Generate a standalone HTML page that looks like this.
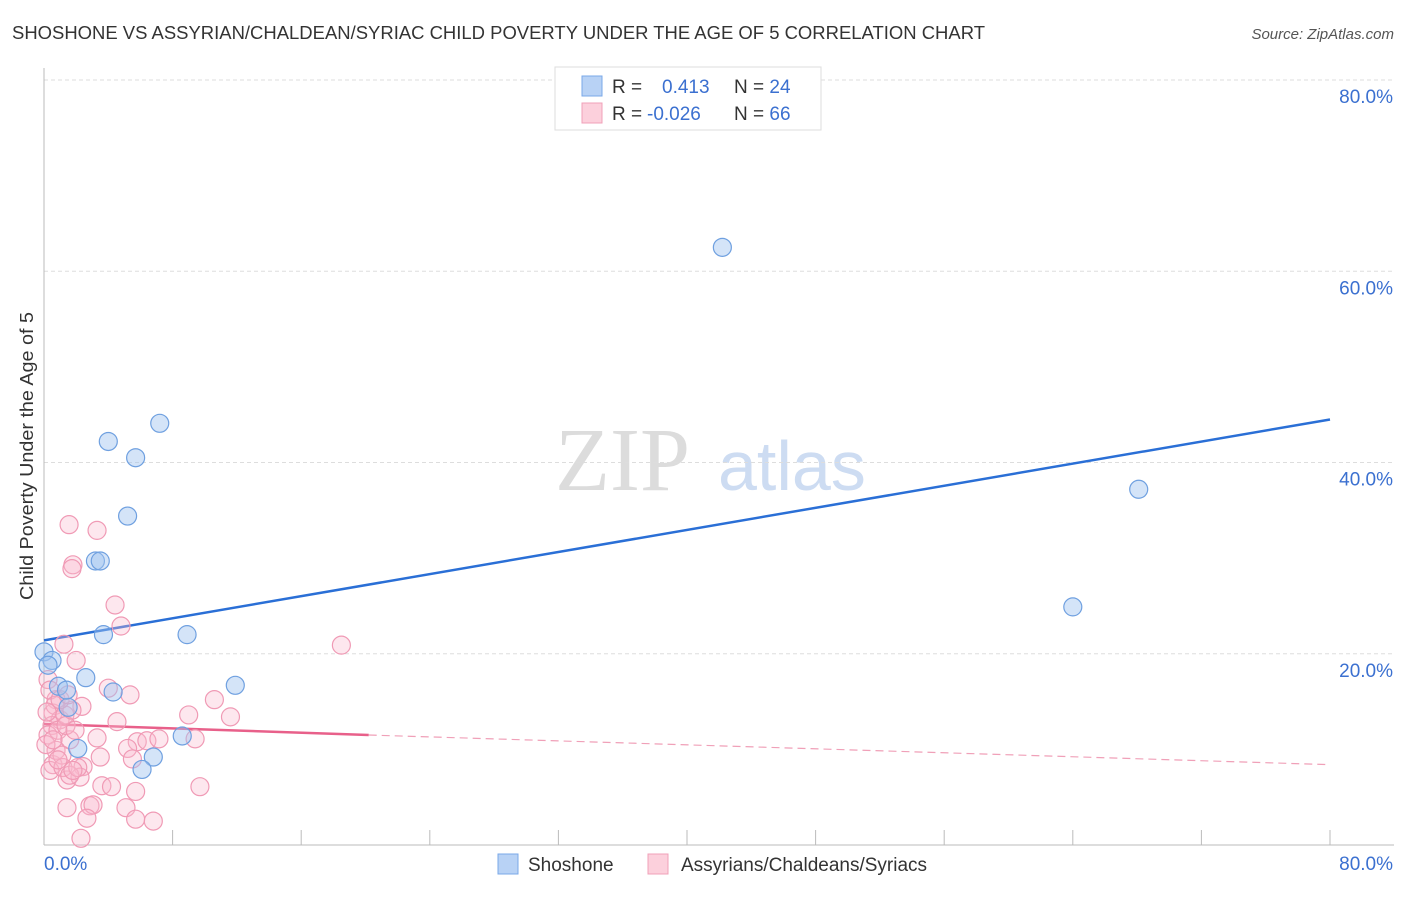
<!DOCTYPE html>
<html><head><meta charset="utf-8"><style>
body{margin:0;background:#fff;font-family:"Liberation Sans",sans-serif}
</style></head><body>
<svg id="chart" width="1406" height="892" xmlns="http://www.w3.org/2000/svg" font-family="Liberation Sans, sans-serif">
<text x="12" y="39" font-size="18" fill="#333" textLength="973" lengthAdjust="spacingAndGlyphs">SHOSHONE VS ASSYRIAN/CHALDEAN/SYRIAC CHILD POVERTY UNDER THE AGE OF 5 CORRELATION CHART</text>
<text x="1394" y="39" font-size="15" fill="#555" font-style="italic" text-anchor="end">Source: ZipAtlas.com</text>
<g>
<text x="555" y="490" font-size="90" fill="#dcdcdc" font-family="Liberation Serif, serif">ZIP</text>
<text x="718" y="490" font-size="70" fill="#cddcf2">atlas</text>
</g>
<g id="grid"></g><g id="axes"></g><g id="trend"></g><g id="pts"></g>
<text transform="translate(33,456) rotate(-90)" font-size="18" fill="#333" text-anchor="middle" textLength="288" lengthAdjust="spacingAndGlyphs">Child Poverty Under the Age of 5</text>
<g>
<rect x="555" y="67" width="266" height="63" fill="#fff" stroke="#ddd"/>
<rect x="582" y="76" width="20" height="20" fill="#b8d2f5" stroke="#7aa8e8"/>
<rect x="582" y="103" width="20" height="20" fill="#fcd0dc" stroke="#f0a0b8"/>
<text x="612" y="93" font-size="19" fill="#333">R = <tspan x="662" fill="#3b70d0">0.413</tspan><tspan x="734" fill="#333">N = </tspan><tspan fill="#3b70d0">24</tspan></text>
<text x="612" y="120" font-size="19" fill="#333">R = <tspan x="647" fill="#3b70d0">-0.026</tspan><tspan x="734" fill="#333">N = </tspan><tspan fill="#3b70d0">66</tspan></text>
</g>
<g>
<rect x="498" y="854" width="20" height="20" fill="#b8d2f5" stroke="#7aa8e8"/>
<text x="528" y="871" font-size="19" fill="#333">Shoshone</text>
<rect x="648" y="854" width="20" height="20" fill="#fcd0dc" stroke="#f0a0b8"/>
<text x="681" y="871" font-size="19" fill="#333">Assyrians/Chaldeans/Syriacs</text>
</g>
</svg>
<script>
const yTicks=[20,40,60,80];
const yTickLabels=["20.0%","40.0%","60.0%","80.0%"];
const xTickLabels=["0.0%","80.0%"];
const shoshoneX=[0,0.5,4.0,7.2,5.7,5.2,3.2,3.5,3.7,8.9,42.2,68.1,64.0,2.6,0.9,4.3,11.9,1.5,2.1,6.8,6.1,8.6,0.25,1.4];
const shoshoneY=[20.2,19.3,42.2,44.1,40.5,34.4,29.7,29.7,22.0,22.0,62.5,37.2,24.9,17.5,16.6,16.0,16.7,14.4,10.1,9.2,7.9,11.4,18.8,16.2];
const assyrX=[1.56,3.3,1.8,1.74,4.42,4.79,1.24,18.5,2.0,4.0,5.35,2.36,0.75,0.56,4.54,9.0,10.6,11.6,3.3,5.8,6.4,7.15,9.4,5.2,3.5,5.5,0.56,1.43,2.43,2.24,3.6,4.2,5.7,9.7,1.43,2.86,3.05,2.67,5.1,5.7,6.8,2.3,0.25,0.37,0.68,1.0,0.5,0.25,0.87,1.3,1.6,0.75,1.12,0.12,1.37,1.74,0.37,1.0,1.5,1.93,0.19,0.56,1.18,0.87,1.6,2.1,1.8];
const assyrY=[33.5,32.9,29.3,28.9,25.1,22.9,21.0,20.9,19.3,16.4,15.7,14.5,15.2,13.8,12.9,13.6,15.2,13.4,11.2,10.8,10.9,11.1,11.1,10.1,9.2,9.0,8.4,6.8,8.2,7.1,6.2,6.1,5.6,6.1,3.9,4.1,4.2,2.8,3.9,2.7,2.5,0.7,17.3,16.2,14.6,13.1,12.5,11.5,12.0,13.6,11.0,9.9,9.4,10.5,12.5,14.1,7.8,15.2,15.7,12.0,13.9,11.0,8.1,8.9,7.3,8.1,7.8];
const blueTrend=[[0,21.4],[80,44.5]];
const pinkTrendSolid=[[0,12.65],[20.2,11.5]];
const pinkTrendDash=[[20.2,11.5],[80,8.4]];
const X=v=>44+v*1286/80, Y=v=>845-v*765/80;
const NS="http://www.w3.org/2000/svg";
function mk(tag,attrs,parent){const e=document.createElementNS(NS,tag);for(const k in attrs)e.setAttribute(k,attrs[k]);document.getElementById(parent).appendChild(e);return e;}
yTicks.forEach((t,i)=>{
 const g=mk('line',{x1:44,x2:1394,y1:Y(t),y2:Y(t),stroke:'#ddd','stroke-dasharray':'4,3'},'grid');
 
 
 const l=mk('text',{x:1393,y:Y(t)+23,'font-size':19,fill:'#3b70d0','text-anchor':'end'},'grid');l.textContent=yTickLabels[i];
 
 
});
let a=mk('line',{x1:44,x2:44,y1:68,y2:845,stroke:'#bbb'},'axes');


a=mk('line',{x1:44,x2:1394,y1:845,y2:845,stroke:'#bbb'},'axes');


for(let i=1;i<=10;i++){const t=mk('line',{x1:X(i*8),x2:X(i*8),y1:830,y2:845,stroke:'#bbb'},'axes');
 
 }
let xl=mk('text',{x:44,y:870,'font-size':19,fill:'#3b70d0'},'axes');xl.textContent=xTickLabels[0];


xl=mk('text',{x:1393,y:870,'font-size':19,fill:'#3b70d0','text-anchor':'end'},'axes');xl.textContent=xTickLabels[1];


assyrX.forEach((v,i)=>{const c=mk('circle',{cx:X(v),cy:Y(assyrY[i]),r:9,fill:'rgba(248,185,205,0.35)',stroke:'#f09ab5','stroke-width':1.2},'pts');
 
 });
shoshoneX.forEach((v,i)=>{const c=mk('circle',{cx:X(v),cy:Y(shoshoneY[i]),r:9,fill:'rgba(160,196,240,0.45)',stroke:'#6fa0e0','stroke-width':1.2},'pts');
 
 });
let t=mk('line',{x1:X(blueTrend[0][0]),y1:Y(blueTrend[0][1]),x2:X(blueTrend[1][0]),y2:Y(blueTrend[1][1]),stroke:'#2a6fd6','stroke-width':2.5},'trend');


t=mk('line',{x1:X(pinkTrendSolid[0][0]),y1:Y(pinkTrendSolid[0][1]),x2:X(pinkTrendSolid[1][0]),y2:Y(pinkTrendSolid[1][1]),stroke:'#e8608a','stroke-width':2.5},'trend');


t=mk('line',{x1:X(pinkTrendDash[0][0]),y1:Y(pinkTrendDash[0][1]),x2:X(pinkTrendDash[1][0]),y2:Y(pinkTrendDash[1][1]),stroke:'#f0a0b8','stroke-width':1.2,'stroke-dasharray':'8,5'},'trend');


</script>
</body></html>
